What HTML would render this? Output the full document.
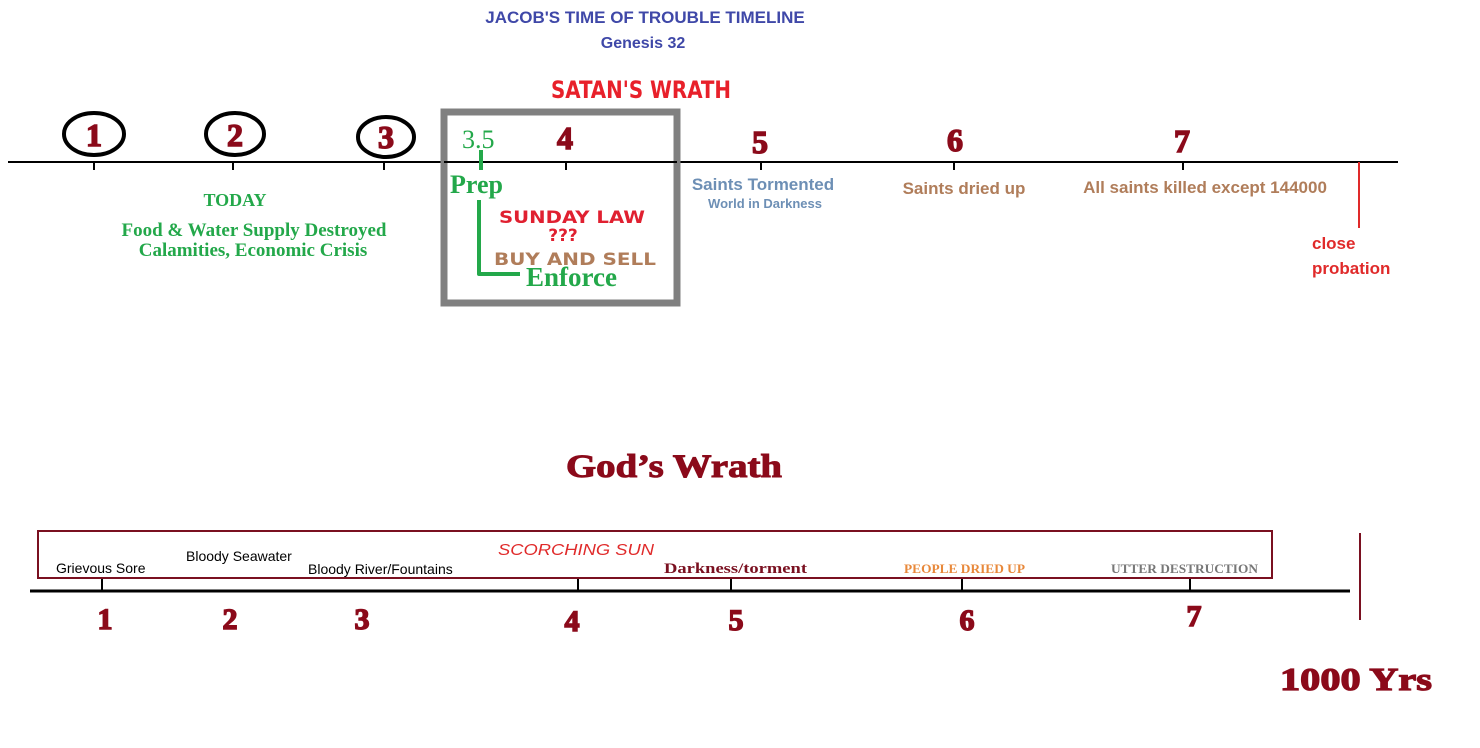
<!DOCTYPE html>
<html><head><meta charset="utf-8"><style>
body{margin:0;background:#fff;}
svg{display:block;}
.imp{font-family:"DejaVu Sans","Liberation Sans",sans-serif;font-weight:bold;}
</style></head><body>
<svg width="1480" height="748" viewBox="0 0 1480 748" xmlns="http://www.w3.org/2000/svg">
<g font-family="Liberation Sans, sans-serif" font-weight="bold" text-anchor="middle">
<text x="645" y="23" fill="#3f48a8" font-size="17">JACOB'S TIME OF TROUBLE TIMELINE</text>
<text x="643" y="48" fill="#3f48a8" font-size="16">Genesis 32</text>
<text x="641" y="98" fill="#e8202a" font-size="24" font-family="DejaVu Sans Condensed, Liberation Sans Narrow, sans-serif" textLength="180" lengthAdjust="spacingAndGlyphs">SATAN'S WRATH</text>
</g>
<line x1="8" y1="162" x2="1398" y2="162" stroke="#000" stroke-width="2"/>
<g stroke="#000" stroke-width="2">
<line x1="94" y1="162" x2="94" y2="170"/><line x1="233" y1="162" x2="233" y2="170"/>
<line x1="384" y1="162" x2="384" y2="170"/><line x1="566" y1="162" x2="566" y2="170"/>
<line x1="761" y1="162" x2="761" y2="170"/><line x1="954" y1="162" x2="954" y2="170"/>
<line x1="1183" y1="162" x2="1183" y2="170"/>
</g>
<line x1="1359" y1="162" x2="1359" y2="228" stroke="#e02a2a" stroke-width="2"/>
<g fill="none" stroke="#000" stroke-width="4">
<ellipse cx="94" cy="134" rx="30" ry="21"/><ellipse cx="235" cy="134" rx="29" ry="21"/><ellipse cx="386" cy="137" rx="28" ry="20"/>
</g>
<g font-family="Liberation Serif, serif" font-weight="bold" fill="#8b0a1a" text-anchor="middle" font-size="32" stroke="#8b0a1a" stroke-width="1.5">
<text x="94" y="146">1</text><text x="235" y="146">2</text><text x="386" y="148">3</text>
<text x="565" y="149">4</text><text x="760" y="153">5</text><text x="955" y="151">6</text><text x="1182" y="152">7</text>
</g>
<rect x="444" y="112" width="233" height="191" fill="none" stroke="#808080" stroke-width="7"/>
<line x1="444" y1="162" x2="677" y2="162" stroke="#000" stroke-width="2"/>
<g font-family="Liberation Serif, serif" fill="#23a84a">
<text x="462" y="148" font-size="26">3.5</text>
<text x="450" y="193" font-size="26" font-weight="bold">Prep</text>
<text x="526" y="286" font-size="27" font-weight="bold">Enforce</text>
</g>
<path d="M481 150 V170 M479 200 V274 H520" fill="none" stroke="#23a84a" stroke-width="4" stroke-linejoin="round"/>
<g class="imp" text-anchor="middle" font-size="17">
<text x="572" y="223" fill="#e02030" textLength="146" lengthAdjust="spacingAndGlyphs">SUNDAY LAW</text>
<text x="563" y="241" fill="#e02030">???</text>
<text x="575" y="265" fill="#b07d5a" textLength="162" lengthAdjust="spacingAndGlyphs">BUY AND SELL</text>
</g>
<g font-family="Liberation Serif, serif" font-weight="bold" fill="#23a84a" text-anchor="middle">
<text x="235" y="206" font-size="18">TODAY</text>
<text x="254" y="236" font-size="19">Food &amp; Water Supply Destroyed</text>
<text x="253" y="256" font-size="19">Calamities, Economic Crisis</text>
</g>
<g font-family="Liberation Sans, sans-serif" font-weight="bold" text-anchor="middle">
<text x="763" y="190" fill="#6d8fb5" font-size="17">Saints Tormented</text>
<text x="765" y="208" fill="#6d8fb5" font-size="13">World in Darkness</text>
<text x="964" y="194" fill="#b07d5a" font-size="17">Saints dried up</text>
<text x="1205" y="193" fill="#b07d5a" font-size="17">All saints killed except 144000</text>
<text x="1312" y="249" fill="#e02a2a" font-size="17" text-anchor="start">close</text>
<text x="1312" y="274" fill="#e02a2a" font-size="17" text-anchor="start">probation</text>
</g>
<text x="674" y="477" font-family="Liberation Serif, serif" font-weight="bold" font-size="33" fill="#8b0a1a" text-anchor="middle" stroke="#8b0a1a" stroke-width="1" textLength="216" lengthAdjust="spacingAndGlyphs">God’s Wrath</text>
<rect x="38" y="531" width="1234" height="47" fill="none" stroke="#7a1020" stroke-width="2"/>
<line x1="30" y1="591" x2="1350" y2="591" stroke="#000" stroke-width="3"/>
<g stroke="#000" stroke-width="2">
<line x1="102" y1="579" x2="102" y2="590"/><line x1="578" y1="579" x2="578" y2="590"/>
<line x1="731" y1="579" x2="731" y2="590"/><line x1="962" y1="579" x2="962" y2="590"/>
<line x1="1190" y1="579" x2="1190" y2="590"/>
</g>
<line x1="1360" y1="533" x2="1360" y2="620" stroke="#7a1020" stroke-width="2"/>
<g font-family="Liberation Sans, sans-serif" font-size="14" fill="#000">
<text x="56" y="573">Grievous Sore</text>
<text x="186" y="561">Bloody Seawater</text>
<text x="308" y="574">Bloody River/Fountains</text>
</g>
<text x="498" y="555" font-family="Liberation Sans, sans-serif" font-style="italic" font-size="16" fill="#e02a2a" textLength="156" lengthAdjust="spacingAndGlyphs">SCORCHING SUN</text>
<text x="664" y="573" font-family="Liberation Serif, serif" font-weight="bold" font-size="15" fill="#7a1020" textLength="143" lengthAdjust="spacingAndGlyphs">Darkness/torment</text>
<text x="904" y="573" font-family="Liberation Serif, serif" font-weight="bold" font-size="13" fill="#e8883a" textLength="121" lengthAdjust="spacingAndGlyphs">PEOPLE DRIED UP</text>
<text x="1111" y="573" font-family="Liberation Serif, serif" font-weight="bold" font-size="13" fill="#777" textLength="147" lengthAdjust="spacingAndGlyphs">UTTER DESTRUCTION</text>
<g font-family="Liberation Serif, serif" font-weight="bold" fill="#8b0a1a" text-anchor="middle" font-size="30" stroke="#8b0a1a" stroke-width="1.5">
<text x="105" y="629">1</text><text x="230" y="629">2</text><text x="362" y="629">3</text>
<text x="572" y="631">4</text><text x="736" y="630">5</text><text x="967" y="630">6</text><text x="1194" y="626">7</text>
</g>
<text x="1356" y="690" font-family="Liberation Serif, serif" font-weight="bold" font-size="32" fill="#8b0a1a" text-anchor="middle" stroke="#8b0a1a" stroke-width="1.2" textLength="152" lengthAdjust="spacingAndGlyphs">1000 Yrs</text>
</svg>
</body></html>
